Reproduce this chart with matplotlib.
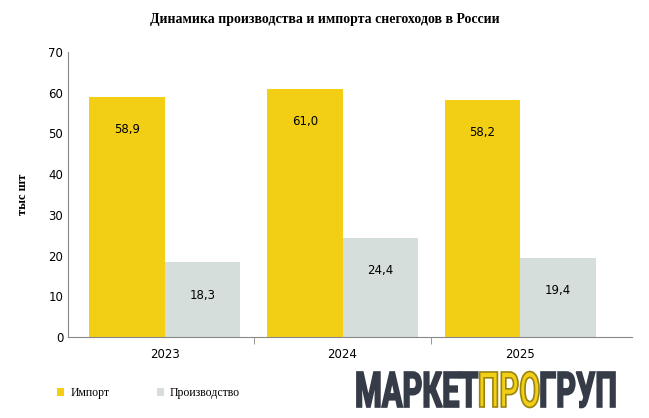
import matplotlib
matplotlib.use("Agg")
import matplotlib.pyplot as plt
import numpy as np
from matplotlib.textpath import TextPath
from matplotlib.font_manager import FontProperties
from matplotlib.patches import PathPatch
from matplotlib.transforms import Affine2D

years = ["2023", "2024", "2025"]
imports = [58.9, 61.0, 58.2]
production = [18.3, 24.4, 19.4]
yticks = [0, 10, 20, 30, 40, 50, 60, 70]

fig = plt.figure(figsize=(6.49, 4.18), dpi=100)
ax = fig.add_axes([68/649, 1-337/418, 564/649, 285/418])
x = np.arange(len(years))
w = 0.425
b1 = ax.bar(x - w/2, imports, w, color="#F2CF14", label="Импорт")
b2 = ax.bar(x + w/2, production, w, color="#D5DEDB", label="Производство")
for bars, vals in ((b1, imports), (b2, production)):
    for r, v in zip(bars, vals):
        ax.text(r.get_x()+r.get_width()/2, v - 8, f"{v:.1f}".replace(".", ","),
                ha="center", va="center", fontsize=8.5, family="DejaVu Sans")
ax.set_xlim(-0.546, 2.63)
ax.set_ylim(0, 70)
ax.set_yticks(yticks)
ax.set_xticks(x)
ax.set_xticklabels(years)
ax.set_xticks([0.5, 1.5], minor=True)
ax.tick_params(axis="x", which="major", length=0, labelsize=8.5, pad=8)
ax.tick_params(axis="x", which="minor", length=5, color="#888888")
ax.tick_params(axis="y", length=0, labelsize=8.5)
for s in ["top", "right"]:
    ax.spines[s].set_visible(False)
ax.spines["left"].set_color("#888888")
ax.spines["bottom"].set_color("#888888")
ax.set_ylabel("тыс шт", family="Liberation Serif", fontweight="bold", fontsize=9, labelpad=14)
fig.text(0.5, 1-20/418, "Динамика производства и импорта снегоходов в России",
         ha="center", va="center", family="Liberation Serif", fontweight="bold", fontsize=10)
fig.legend(loc="lower left", bbox_to_anchor=(0.072, 0.02), ncol=2, frameon=False,
           prop={"family": "Liberation Serif", "size": 8.5},
           handlelength=0.6, handleheight=0.6, handletextpad=0.5, columnspacing=4)

# logo as scaled text paths in pixel coordinates
fp = FontProperties(family="Roboto", weight="bold")
parts = [("МАРКЕТ", "#363B48"), ("ПРО", "#F2CF14"), ("ГРУП", "#363B48")]
paths = [TextPath((0, 0), t, size=30, prop=fp) for t, _ in parts]
widths = [p.get_extents().x1 for p in paths]
total = sum(widths)
H = paths[0].get_extents().y1
sx = 260 / total
sy = 35 / H
x0, y0 = 355, 418 - 407
cur = x0
for (t, col), p, wd in zip(parts, paths, widths):
    tr = Affine2D().scale(sx, sy).translate(cur, y0)
    ec = "#9a8410" if col == "#F2CF14" else col
    patch = PathPatch(tr.transform_path(p), facecolor=col, edgecolor=ec, lw=1.2,
                      transform=None)
    fig.add_artist(patch)
    cur += wd * sx
fig.savefig("out.png", dpi=100)
